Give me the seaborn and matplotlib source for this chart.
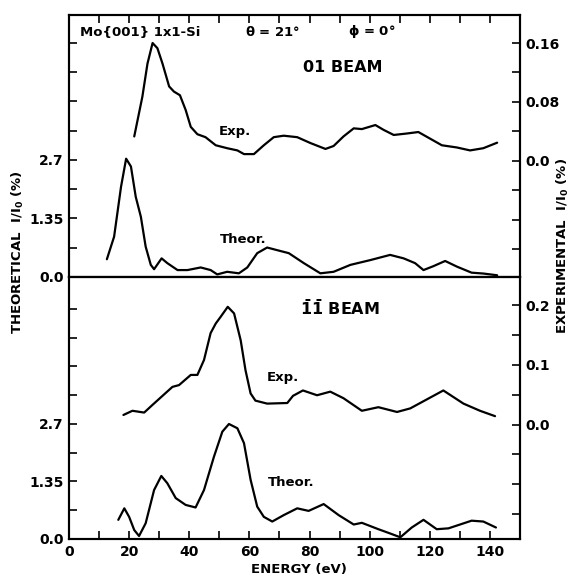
import numpy as np
import pandas as pd
import matplotlib
matplotlib.use("Agg")
import matplotlib.pyplot as plt
import seaborn as sns

# ---- (01) beam ----
e01_exp = [21.7, 24.4, 26.1, 27.8, 29.4, 31.1, 33.3, 34.9, 36.9, 38.8, 40.5, 42.7,
           45.4, 48.8, 52.6, 56.0, 58.2, 61.5, 64.8, 68.1, 71.4, 75.9, 80.3, 85.3,
           88.0, 91.3, 94.7, 97.4, 101.9, 104.6, 108.0, 112.4, 116.2, 120.1, 124.0,
           129.0, 133.4, 137.8, 142.4]
i01_exp = [0.033, 0.087, 0.132, 0.160, 0.153, 0.132, 0.101, 0.094, 0.089, 0.069, 0.046, 0.036,
           0.032, 0.021, 0.017, 0.014, 0.009, 0.009, 0.021, 0.032, 0.034, 0.032, 0.024, 0.016,
           0.020, 0.033, 0.044, 0.043, 0.0485, 0.042, 0.035, 0.037, 0.039, 0.030, 0.021,
           0.018, 0.014, 0.017, 0.0245]

e01_th = [12.6, 15.0, 17.3, 19.0, 20.6, 22.2, 23.9, 25.5, 27.2, 28.3, 30.8, 32.7, 36.1,
          39.4, 43.8, 47.1, 49.3, 52.6, 56.5, 59.3, 62.6, 65.9, 69.2, 73.1, 78.1, 83.6,
          88.0, 93.6, 100.2, 106.8, 111.3, 115.1, 117.9, 121.2, 125.1, 129.0, 133.9,
          137.8, 142.4]
i01_th = [0.41, 0.93, 2.08, 2.73, 2.55, 1.85, 1.39, 0.70, 0.28, 0.18, 0.43, 0.32, 0.16,
          0.16, 0.22, 0.16, 0.06, 0.12, 0.085, 0.22, 0.55, 0.68, 0.62, 0.55, 0.32, 0.085,
          0.12, 0.28, 0.39, 0.51, 0.43, 0.32, 0.16, 0.25, 0.37, 0.24, 0.10,
          0.08, 0.04]

# ---- (-1-1) beam ----
e11_exp = [18.1, 21.1, 25.0, 27.8, 31.1, 34.4, 36.6, 40.5, 42.7, 44.9, 47.1, 48.8,
           50.4, 52.8, 54.9, 57.1, 58.7, 60.4, 62.0, 65.9, 72.6, 74.5, 77.8, 82.5,
           86.9, 91.3, 97.4, 102.9, 109.1, 113.5, 119.0, 124.5, 131.2, 136.7, 141.7]
i11_exp = [0.016, 0.023, 0.020, 0.033, 0.048, 0.063, 0.066, 0.083, 0.083, 0.108, 0.153, 0.169,
           0.180, 0.197, 0.186, 0.141, 0.091, 0.052, 0.040, 0.035, 0.036, 0.048, 0.057, 0.049,
           0.055, 0.044, 0.023, 0.029, 0.021, 0.027, 0.042, 0.057, 0.035, 0.023, 0.014]

e11_th = [16.4, 18.4, 20.0, 21.7, 23.3, 25.5, 28.3, 30.7, 32.7, 35.5, 38.8, 42.1, 44.9,
          48.2, 51.0, 53.2, 56.0, 58.2, 60.4, 62.6, 64.8, 67.6, 71.4, 75.9, 79.7, 84.7,
          89.7, 94.7, 97.4, 102.9, 106.8, 110.2, 114.0, 117.9, 122.3, 126.2, 133.9,
          137.8, 142.0]
i11_th = [0.45, 0.72, 0.52, 0.21, 0.07, 0.37, 1.15, 1.48, 1.31, 0.96, 0.80, 0.74, 1.15,
          1.93, 2.52, 2.70, 2.60, 2.25, 1.39, 0.76, 0.52, 0.41, 0.56, 0.72, 0.66, 0.82,
          0.56, 0.34, 0.38, 0.23, 0.13, 0.04, 0.27, 0.45, 0.23, 0.25, 0.43,
          0.41, 0.27]

# ---- axis ticks ----
energy_ticks = list(range(0, 141, 10))
energy_labels = ["0", "", "20", "", "40", "", "60", "", "80", "", "100", "", "120", "", "140"]
theor_ticks = [0.0, 0.675, 1.35, 2.025, 2.7, 3.375, 4.05, 4.725, 5.4]
theor_labels = ["0.0", "", "1.35", "", "2.7", "", "", "", ""]
exp01_ticks = [-0.12, -0.08, -0.04, 0.0, 0.04, 0.08, 0.12, 0.16]
exp01_labels = ["", "", "", "0.0", "", "0.08", "", "0.16"]
exp11_ticks = [-0.15, -0.10, -0.05, 0.0, 0.05, 0.10, 0.15, 0.20]
exp11_labels = ["", "", "", "0.0", "", "0.1", "", "0.2"]

sns.set_style("ticks")
plt.rcParams["font.family"] = ["DejaVu Sans"]
plt.rcParams["font.weight"] = "bold"
plt.rcParams["mathtext.fontset"] = "dejavusans"
plt.rcParams["mathtext.default"] = "bf"

W, H = 572, 579
fig = plt.figure(figsize=(W / 100, H / 100), dpi=100)

def fx(px):
    return px / W

def fy(py):
    return 1 - py / H

left, right = 69, 520
top, mid, bot = 15, 277, 539

ax_top = fig.add_axes([fx(left), fy(mid), fx(right) - fx(left), fy(top) - fy(mid)])
ax_bot = fig.add_axes([fx(left), fy(bot), fx(right) - fx(left), fy(mid) - fy(bot)])
tw_top = ax_top.twinx()
tw_bot = ax_bot.twinx()

lw = 1.6
tick_kw = dict(direction="in", length=6, width=1.2, colors="black", labelsize=10)

def draw(ax, e, v):
    sns.lineplot(x=e, y=v, ax=ax, color="black", linewidth=lw, sort=False,
                 estimator=None, legend=False)

draw(ax_top, e01_th, i01_th)
draw(tw_top, e01_exp, i01_exp)
draw(ax_bot, e11_th, i11_th)
draw(tw_bot, e11_exp, i11_exp)

for ax in (ax_top, ax_bot, tw_top, tw_bot):
    ax.set_xlim(0, 150)
    ax.set_xlabel("")
    ax.set_ylabel("")
    for s in ax.spines.values():
        s.set_linewidth(1.5)
        s.set_color("black")
        s.set_visible(True)

ax_top.set_ylim(0, 6.046)
tw_top.set_ylim(-0.1581, 0.1981)
ax_bot.set_ylim(0, 6.151)
tw_bot.set_ylim(-0.1916, 0.2469)

# energy ticks: top edge of upper panel, bottom edge of lower panel
ax_top.set_xticks(energy_ticks[1:])
ax_top.tick_params(axis="x", top=True, bottom=False, labeltop=False, labelbottom=False, **tick_kw)
tw_top.tick_params(axis="x", top=False, bottom=False, labeltop=False, labelbottom=False)
ax_bot.set_xticks(energy_ticks)
ax_bot.set_xticklabels(energy_labels)
ax_bot.tick_params(axis="x", top=False, bottom=True, pad=4, **tick_kw)
tw_bot.tick_params(axis="x", top=False, bottom=False, labeltop=False, labelbottom=False)

for ax in (ax_top, ax_bot):
    ax.set_yticks(theor_ticks)
    ax.set_yticklabels(theor_labels)
    ax.tick_params(axis="y", left=True, right=False, pad=4, **tick_kw)

tw_top.set_yticks(exp01_ticks)
tw_top.set_yticklabels(exp01_labels)
tw_bot.set_yticks(exp11_ticks)
tw_bot.set_yticklabels(exp11_labels)
for ax in (tw_top, tw_bot):
    ax.tick_params(axis="y", left=False, right=True, pad=4, **tick_kw)

# annotations
txt = dict(color="black", va="center", fontweight="bold")
fig.text(fx(80), fy(32), "Mo{001} 1x1-Si", ha="left", fontsize=9.5, **txt)
fig.text(fx(245), fy(32), r"$\theta$ = 21°", ha="left", fontsize=9.5, **txt)
fig.text(fx(348), fy(32), r"$\phi$ = 0°", ha="left", fontsize=9.5, **txt)
fig.text(fx(303), fy(68), "01 BEAM", ha="left", fontsize=11.5, **txt)
fig.text(fx(219), fy(131), "Exp.", ha="left", fontsize=9.5, **txt)
fig.text(fx(220), fy(239), "Theor.", ha="left", fontsize=9.5, **txt)
fig.text(fx(300), fy(308), r"$\bar{1}\bar{1}$ BEAM", ha="left", fontsize=11.5, **txt)
fig.text(fx(267), fy(378), "Exp.", ha="left", fontsize=9.5, **txt)
fig.text(fx(268), fy(483), "Theor.", ha="left", fontsize=9.5, **txt)
fig.text(fx(299), fy(569), "ENERGY (eV)", ha="center", fontsize=9.5, **txt)
fig.text(fx(18), fy(252), r"THEORETICAL  I/I$_0$ (%)", ha="center", rotation=90,
         fontsize=9.5, **txt)
fig.text(fx(563), fy(246), r"EXPERIMENTAL  I/I$_0$ (%)", ha="center", rotation=90,
         fontsize=9.5, **txt)

fig.savefig("out.png", dpi=100, facecolor="white")
